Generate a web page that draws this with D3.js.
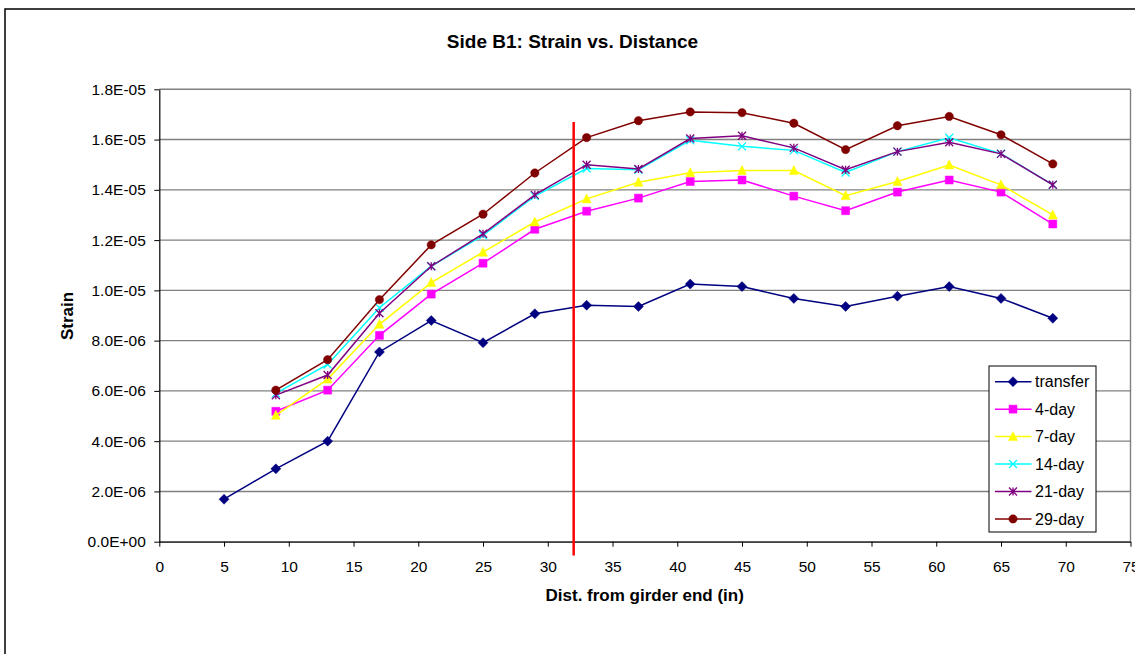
<!DOCTYPE html>
<html>
<head>
<meta charset="utf-8">
<script src="https://cdn.jsdelivr.net/npm/d3@7"></script>
<style>
  body { margin: 0; background: #fff; }
  text { font-family: "Liberation Sans", Arial, sans-serif; fill: #000; }
</style>
</head>
<body>
<div id="chart"></div>
<script>
// Chart data (strain values in units of 1e-6).
var distTransfer = [5, 9, 13, 17, 21, 25, 29, 33, 37, 41, 45, 49, 53, 57, 61, 65, 69];
var distDays = [9, 13, 17, 21, 25, 29, 33, 37, 41, 45, 49, 53, 57, 61, 65, 69];
var transfer = [1.69, 2.9, 4.0, 7.55, 8.8, 7.92, 9.07, 9.41, 9.36, 10.25, 10.15, 9.68, 9.36, 9.77, 10.15, 9.68, 8.89];
var day4  = [5.19, 6.03, 8.21, 9.85, 11.08, 12.43, 13.15, 13.67, 14.33, 14.39, 13.75, 13.17, 13.91, 14.39, 13.91, 12.64];
var day7  = [5.03, 6.47, 8.65, 10.31, 11.52, 12.72, 13.64, 14.3, 14.68, 14.77, 14.77, 13.77, 14.33, 14.99, 14.2, 13.0];
var day14 = [5.9, 7.05, 9.31, 10.96, 12.19, 13.75, 14.85, 14.8, 15.97, 15.73, 15.57, 14.69, 15.52, 16.07, 15.44, 14.2];
var day21 = [5.83, 6.63, 9.09, 10.96, 12.25, 13.8, 15.0, 14.83, 16.04, 16.15, 15.67, 14.8, 15.52, 15.89, 15.43, 14.2];
var day29 = [6.03, 7.24, 9.63, 11.81, 13.03, 14.67, 16.08, 16.75, 17.1, 17.07, 16.65, 15.6, 16.55, 16.92, 16.19, 15.03];
var seriesNames = ["transfer", "4-day", "7-day", "14-day", "21-day", "29-day"];
var seriesColors = ["#000080", "#FF00FF", "#FFFF00", "#00FFFF", "#800080", "#800000"];
var seriesMarkers = ["diamond", "square", "triangle", "times", "star", "circle"];
var xTicks = [0, 5, 10, 15, 20, 25, 30, 35, 40, 45, 50, 55, 60, 65, 70, 75];
var yTicks = [0, 2e-6, 4e-6, 6e-6, 8e-6, 1e-5, 1.2e-5, 1.4e-5, 1.6e-5, 1.8e-5];
var markerLineX = 32;
var markerLineY = [-0.55e-6, 16.7e-6];

var svgWidth = 1135;
var svgHeight = 654;
var plot = { left: 159.3, right: 1130.5, top: 89.3, bottom: 541.7 };

var svg = d3.select("#chart").append("svg").attr("width", svgWidth).attr("height", svgHeight);

// Outer chart border (right and bottom edges fall outside the picture).
svg.append("rect").attr("x", 5).attr("y", 9).attr("width", 1200).attr("height", 700)
  .attr("fill", "#fff").attr("stroke", "#000").attr("stroke-width", 1.5);

var xScale = d3.scaleLinear().domain([0, 75]).range([plot.left, plot.right]);
var yScale = d3.scaleLinear().domain([0, 1.8e-5]).range([plot.bottom, plot.top]);

// Excel style exponent format, e.g. 1.8E-05
function expFormat(v) {
  var parts = v.toExponential(1).split("e");
  var e = +parts[1];
  return parts[0] + "E" + (e < 0 ? "-" : "+") + String(Math.abs(e)).padStart(2, "0");
}

// Gridlines.
svg.append("g").selectAll("line").data(yTicks).enter().append("line")
  .attr("x1", plot.left).attr("x2", plot.right)
  .attr("y1", d => yScale(d)).attr("y2", d => yScale(d))
  .attr("stroke", "#808080").attr("stroke-width", 1.4);

// Plot area right border.
svg.append("line").attr("x1", plot.right).attr("x2", plot.right)
  .attr("y1", plot.top).attr("y2", plot.bottom)
  .attr("stroke", "#808080").attr("stroke-width", 1.4);

var xAxis = svg.append("g").attr("transform", `translate(0,${plot.bottom})`)
  .call(d3.axisBottom(xScale).tickValues(xTicks).tickSize(5).tickSizeOuter(0).tickPadding(14));
xAxis.selectAll("text").attr("font-size", "15.5px").attr("font-family", null);
xAxis.select(".domain").attr("stroke", "#404040").attr("stroke-width", 1.6);
xAxis.selectAll(".tick line").attr("stroke", "#000");

var yAxis = svg.append("g").attr("transform", `translate(${plot.left},0)`)
  .call(d3.axisLeft(yScale).tickValues(yTicks).tickFormat(expFormat).tickSize(5).tickSizeOuter(0).tickPadding(8.5));
yAxis.selectAll("text").attr("font-size", "15.5px").attr("font-family", null);
yAxis.select(".domain").attr("stroke", "#000").attr("stroke-width", 1.2);
yAxis.selectAll(".tick line").attr("stroke", "#000");

// Titles.
svg.append("text").attr("x", 572.5).attr("y", 47.7).attr("text-anchor", "middle")
  .attr("font-size", "19px").attr("font-weight", "bold").text("Side B1: Strain vs. Distance");
svg.append("text").attr("x", 644.7).attr("y", 601).attr("text-anchor", "middle")
  .attr("font-size", "17px").attr("font-weight", "bold").text("Dist. from girder end (in)");
svg.append("text").attr("transform", "translate(73,316) rotate(-90)").attr("text-anchor", "middle")
  .attr("font-size", "17px").attr("font-weight", "bold").text("Strain");

// Marker shapes.
function markerPath(type, s) {
  var h = s / 2;
  if (type === "diamond") return `M0,${-h - 1}L${h + 1},0L0,${h + 1}L${-h - 1},0Z`;
  if (type === "square") return `M${-h},${-h}H${h}V${h}H${-h}Z`;
  if (type === "triangle") return `M0,${-h - 1}L${h + 0.5},${h}L${-h - 0.5},${h}Z`;
  if (type === "times") return `M${-h},${-h}L${h},${h}M${-h},${h}L${h},${-h}`;
  if (type === "star") return `M${-h},${-h}L${h},${h}M${-h},${h}L${h},${-h}M0,${-h}V${h}`;
  return d3.symbol(d3.symbolCircle, s * s * 0.85)();
}

var allSeries = [
  { x: distTransfer, y: transfer },
  { x: distDays, y: day4 },
  { x: distDays, y: day7 },
  { x: distDays, y: day14 },
  { x: distDays, y: day21 },
  { x: distDays, y: day29 }
];

var line = d3.line().x(d => xScale(d[0])).y(d => yScale(d[1] * 1e-6));

allSeries.forEach((s, i) => {
  var pts = s.x.map((d, j) => [d, s.y[j]]);
  var color = seriesColors[i];
  var stroked = seriesMarkers[i] === "times" || seriesMarkers[i] === "star";
  svg.append("path").datum(pts).attr("d", line)
    .attr("fill", "none").attr("stroke", color).attr("stroke-width", 1.5);
  svg.append("g").selectAll("path").data(pts).enter().append("path")
    .attr("transform", d => `translate(${xScale(d[0])},${yScale(d[1] * 1e-6)})`)
    .attr("d", markerPath(seriesMarkers[i], 8))
    .attr("fill", stroked ? "none" : color)
    .attr("stroke", color).attr("stroke-width", stroked ? 1.3 : 0.5);
});

// Red reference line.
svg.append("line")
  .attr("x1", xScale(markerLineX)).attr("x2", xScale(markerLineX))
  .attr("y1", yScale(markerLineY[0])).attr("y2", yScale(markerLineY[1]))
  .attr("stroke", "#FF0000").attr("stroke-width", 2.5);

// Legend.
var legend = svg.append("g");
legend.append("rect").attr("x", 989).attr("y", 366).attr("width", 107).attr("height", 166)
  .attr("fill", "#fff").attr("stroke", "#000").attr("stroke-width", 1);
seriesNames.forEach((name, i) => {
  var y = 381.7 + i * 27.45;
  var color = seriesColors[i];
  var stroked = seriesMarkers[i] === "times" || seriesMarkers[i] === "star";
  legend.append("line").attr("x1", 995).attr("x2", 1031.5).attr("y1", y).attr("y2", y)
    .attr("stroke", color).attr("stroke-width", 1.5);
  legend.append("path").attr("transform", `translate(1013,${y})`)
    .attr("d", markerPath(seriesMarkers[i], 8))
    .attr("fill", stroked ? "none" : color)
    .attr("stroke", color).attr("stroke-width", stroked ? 1.3 : 0.5);
  legend.append("text").attr("x", 1035).attr("y", y).attr("dy", "0.35em")
    .attr("font-size", "16px").text(name);
});
</script>
</body>
</html>
